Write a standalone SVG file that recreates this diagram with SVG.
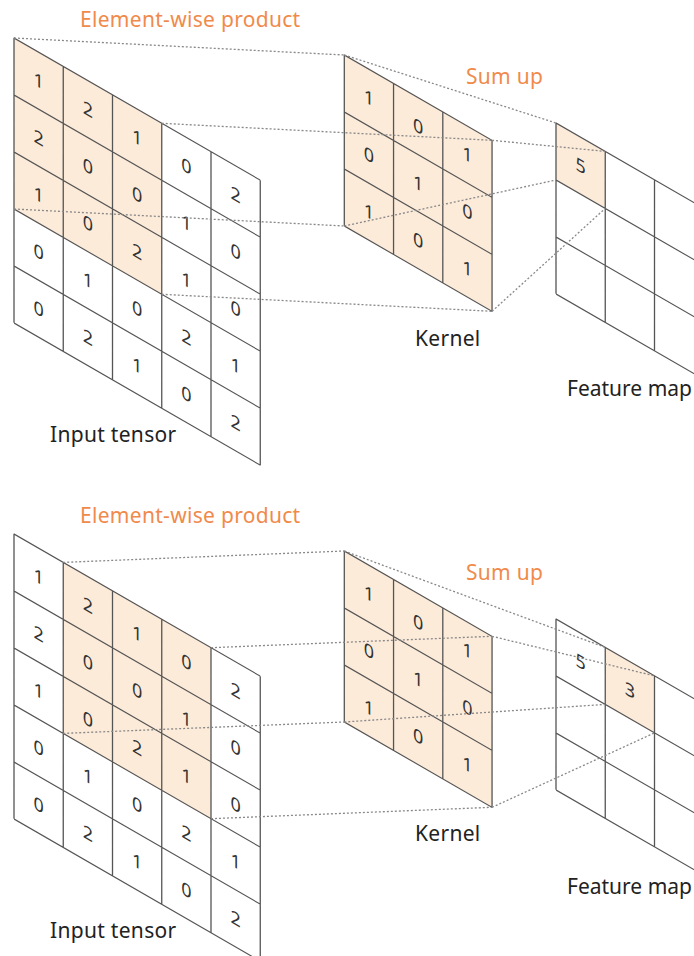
<svg xmlns="http://www.w3.org/2000/svg" width="694" height="956" viewBox="0 0 694 956">
<defs>
<style>
.grid{fill:none;stroke:#555;stroke-width:1.3}
.hl{fill:#FDEBDA;stroke:none}
.d{font-family:"Noto Sans","Liberation Sans",sans-serif;font-size:18px;fill:#333;text-anchor:middle}
.lab{font-family:"Noto Sans","Liberation Sans",sans-serif;font-size:21px;fill:#222;letter-spacing:0.3px}
.fm{letter-spacing:0}
.or{fill:#F08A4B}
.con{fill:none;stroke:#888;stroke-width:1.3;stroke-dasharray:2 2}
</style>
<path id="g5" class="grid" d="M0 0V285M49.25 0V285M98.5 0V285M147.75 0V285M197 0V285M246.25 0V285M0 0H246.25M0 57H246.25M0 114H246.25M0 171H246.25M0 228H246.25M0 285H246.25"/>
<path id="g3" class="grid" d="M0 0V171M49.25 0V171M98.5 0V171M147.75 0V171M0 0H147.75M0 57H147.75M0 114H147.75M0 171H147.75"/>
<g id="vals5">
<text class="d" x="24.6" y="35">1</text><text class="d" x="73.9" y="35">2</text><text class="d" x="123.1" y="35">1</text><text class="d" x="172.4" y="35">0</text><text class="d" x="221.6" y="35">2</text>
<text class="d" x="24.6" y="92">2</text><text class="d" x="73.9" y="92">0</text><text class="d" x="123.1" y="92">0</text><text class="d" x="172.4" y="92">1</text><text class="d" x="221.6" y="92">0</text>
<text class="d" x="24.6" y="149">1</text><text class="d" x="73.9" y="149">0</text><text class="d" x="123.1" y="149">2</text><text class="d" x="172.4" y="149">1</text><text class="d" x="221.6" y="149">0</text>
<text class="d" x="24.6" y="206">0</text><text class="d" x="73.9" y="206">1</text><text class="d" x="123.1" y="206">0</text><text class="d" x="172.4" y="206">2</text><text class="d" x="221.6" y="206">1</text>
<text class="d" x="24.6" y="263">0</text><text class="d" x="73.9" y="263">2</text><text class="d" x="123.1" y="263">1</text><text class="d" x="172.4" y="263">0</text><text class="d" x="221.6" y="263">2</text>
</g>
<g id="kvals">
<rect class="hl" x="0" y="0" width="147.75" height="171"/>
<text class="d" x="24.6" y="35">1</text><text class="d" x="73.9" y="35">0</text><text class="d" x="123.1" y="35">1</text>
<text class="d" x="24.6" y="92">0</text><text class="d" x="73.9" y="92">1</text><text class="d" x="123.1" y="92">0</text>
<text class="d" x="24.6" y="149">1</text><text class="d" x="73.9" y="149">0</text><text class="d" x="123.1" y="149">1</text>
<use href="#g3"/>
</g>
</defs>
<rect width="694" height="956" fill="#fff"/>

<!-- Panel 1 -->
<g id="input1" transform="matrix(1 0.57735 0 1 14 38)">
<rect class="hl" x="0" y="0" width="147.75" height="171"/>
<use href="#vals5"/>
<use href="#g5"/>
</g>
<g id="kernel1" transform="matrix(1 0.57735 0 1 344.3 55)">
<use href="#kvals"/>
</g>
<g id="fmap1" transform="matrix(1 0.57735 0 1 556 123)">
<rect class="hl" x="0" y="0" width="49.25" height="57"/>
<text class="d" x="24.6" y="35">5</text>
<use href="#g3"/>
</g>
<g id="labels1">
<text class="lab or" x="80" y="27">Element-wise product</text>
<text class="lab or" x="466" y="84">Sum up</text>
<text class="lab" x="50" y="442">Input tensor</text>
<text class="lab" x="415" y="346">Kernel</text>
<text class="lab fm" x="567" y="396">Feature map</text>
</g>

<!-- Panel 2 -->
<g id="input2" transform="matrix(1 0.57735 0 1 14 534)">
<rect class="hl" x="49.25" y="0" width="147.75" height="171"/>
<use href="#vals5"/>
<use href="#g5"/>
</g>
<g id="kernel2" transform="matrix(1 0.57735 0 1 344.3 551)">
<use href="#kvals"/>
</g>
<g id="fmap2" transform="matrix(1 0.57735 0 1 556 619)">
<rect class="hl" x="49.25" y="0" width="49.25" height="57"/>
<text class="d" x="24.6" y="35">5</text>
<text class="d" x="73.9" y="35">3</text>
<use href="#g3"/>
</g>
<g id="labels2">
<text class="lab or" x="80" y="523">Element-wise product</text>
<text class="lab or" x="466" y="580">Sum up</text>
<text class="lab" x="50" y="938">Input tensor</text>
<text class="lab" x="415" y="841">Kernel</text>
<text class="lab fm" x="567" y="894">Feature map</text>
</g>

<g id="connectors">
<path class="con" d="M14 38L344.3 55M161.75 123.3L492.05 140.3M14 209L344.3 226M161.75 294.3L492.05 311.3"/>
<path class="con" d="M344.3 55L556 123M492.05 140.3L605.25 151.4M344.3 226L556 180M492.05 311.3L605.25 208.4"/>
<path class="con" d="M63.25 562.4L344.3 551M211 647.7L492.05 636.3M63.25 733.4L344.3 722M211 818.7L492.05 807.3"/>
<path class="con" d="M344.3 551L605.25 647.4M492.05 636.3L654.5 675.9M344.3 722L605.25 704.4M492.05 807.3L654.5 732.9"/>
</g>
</svg>
